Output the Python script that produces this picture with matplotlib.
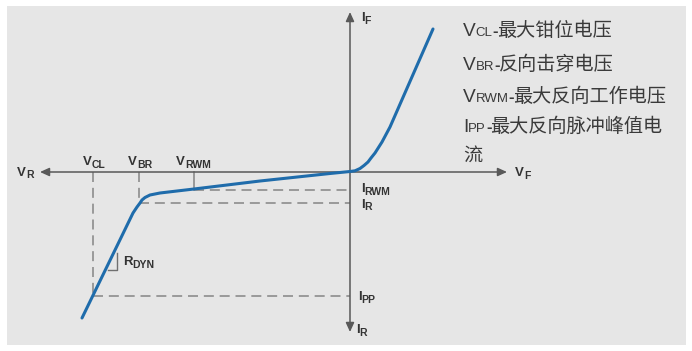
import matplotlib
matplotlib.use("Agg")
import matplotlib.pyplot as plt
from matplotlib.patches import Rectangle

# I-V curve of a TVS diode (diagram units, origin at the axis cross)
rev_v = [-26.8, -21.7, -21.3, -21.0, -20.8, -20.5, -20.0, -19.0, -15.6, -9.0, -2.0, 0.0]
rev_i = [-14.6, -4.1, -3.5, -3.1, -2.8, -2.55, -2.3, -2.1, -1.7, -0.9, -0.15, 0.05]
fwd_v = [0.0, 0.5, 1.0, 1.4, 1.8, 2.1, 2.5, 3.2, 4.0, 8.3]
fwd_i = [0.05, 0.12, 0.35, 0.65, 1.0, 1.4, 1.9, 3.0, 4.5, 14.3]

# characteristic points
V_CL, V_BR, V_RWM = -25.7, -21.1, -15.6
I_RWM, I_R, I_PP = -1.8, -3.1, -12.4

# axis extents
X_NEG, X_POS = -31.0, 15.7
Y_POS, Y_NEG = 16.0, -16.0

# R_DYN right-angle marker
rdyn_x = [-24.2, -23.3, -23.3]
rdyn_y = [-9.8, -9.8, -8.1]

# (main, subscript, x, baseline y)
axis_labels = [
    ("V", "R", -33.3, -0.35),
    ("V", "F", 16.5, -0.45),
    ("I", "F", 1.1, 15.1),
    ("I", "R", 0.6, -16.1),
    ("I", "PP", 0.8, -12.8),
    ("I", "RWM", 1.1, -2.0),
    ("I", "R", 1.1, -3.55),
    ("V", "CL", -26.7, 0.7),
    ("V", "BR", -22.2, 0.7),
    ("V", "RWM", -17.4, 0.7),
    ("R", "DYN", -22.7, -9.3),
]

# right-hand description: (text, size, bold)
legend_lines = [
    [("V", 13.8, False), ("CL", 9.5, False), ("-", 12, True), ("最大钳位电压", 13.8, False)],
    [("V", 13.8, False), ("BR", 9.5, False), ("-", 12, True), ("反向击穿电压", 13.8, False)],
    [("V", 13.8, False), ("RWM", 9.5, False), ("-", 12, True), ("最大反向工作电压", 13.8, False)],
    [("I", 13.8, False), ("PP", 9.5, False), ("-", 12, True), ("最大反向脉冲峰值电", 13.8, False)],
    [("流", 13.8, False)],
]
legend_base = [13.6, 10.2, 7.0, 4.0, 1.1]
legend_x = 11.3

blue = '#1f6cab'
axis_col = '#595959'
dash_col = '#8c8c8c'
txt_col = '#3a3a3a'

fig = plt.figure(figsize=(6.92, 3.51), dpi=100)
ax = fig.add_axes([0, 0, 1, 1])
ax.set_xlim(-35.0, 34.2)
ax.set_ylim(-17.9, 17.2)
ax.axis('off')
renderer = fig.canvas.get_renderer()
px_per_unit = 10.0

ax.add_patch(Rectangle((-34.3, -17.3), 67.9, 33.9, facecolor='#e6e6e6',
                       edgecolor='none', zorder=0))

# axes with arrows
arrow = dict(arrowstyle='<|-|>,head_length=0.55,head_width=0.25',
             color=axis_col, lw=1.1, shrinkA=0, shrinkB=0)
ax.annotate('', xy=(X_NEG, 0), xytext=(X_POS, 0), arrowprops=arrow, zorder=2)
ax.annotate('', xy=(0, Y_POS), xytext=(0, Y_NEG), arrowprops=arrow, zorder=2)

dash = dict(color=dash_col, lw=1.2, dashes=(6, 3.5), zorder=1)
ax.plot([V_CL, V_CL], [0, I_PP], **dash)
ax.plot([V_CL, 0], [I_PP, I_PP], **dash)
ax.plot([V_BR, V_BR], [0, I_R], **dash)
ax.plot([V_BR, 0], [I_R, I_R], **dash)
ax.plot([V_RWM, 0], [I_RWM, I_RWM], **dash)
ax.plot([V_RWM, V_RWM], [0, I_RWM], color=dash_col, lw=1.2, zorder=1)
ax.plot(rdyn_x, rdyn_y, color='#707070', lw=1.0, zorder=1)

ax.plot(rev_v + fwd_v[1:], rev_i + fwd_i[1:], color=blue, lw=2.2,
        solid_capstyle='round', solid_joinstyle='round', zorder=3)


def put(x, y, s, size, **kw):
    t = ax.text(x, y, s, fontsize=size, va='baseline', ha='left', **kw)
    return x + t.get_window_extent(renderer).width / px_per_unit


for main, sub, x, y in axis_labels:
    x = put(x, y, main, 9.5, color='#333333', weight='bold', family='Liberation Sans')
    put(x, y - 0.28, sub, 7.5, color='#333333', weight='bold', family='Liberation Sans')

for pieces, yb in zip(legend_lines, legend_base):
    x = legend_x
    for s, size, bold in pieces:
        x = put(x, yb, s, size, color=txt_col,
                weight='bold' if bold else 'normal',
                family=['Liberation Sans', 'Noto Sans CJK SC'])
        if bold:
            x -= 0.1

fig.savefig('out.png', dpi=100, facecolor='white')
